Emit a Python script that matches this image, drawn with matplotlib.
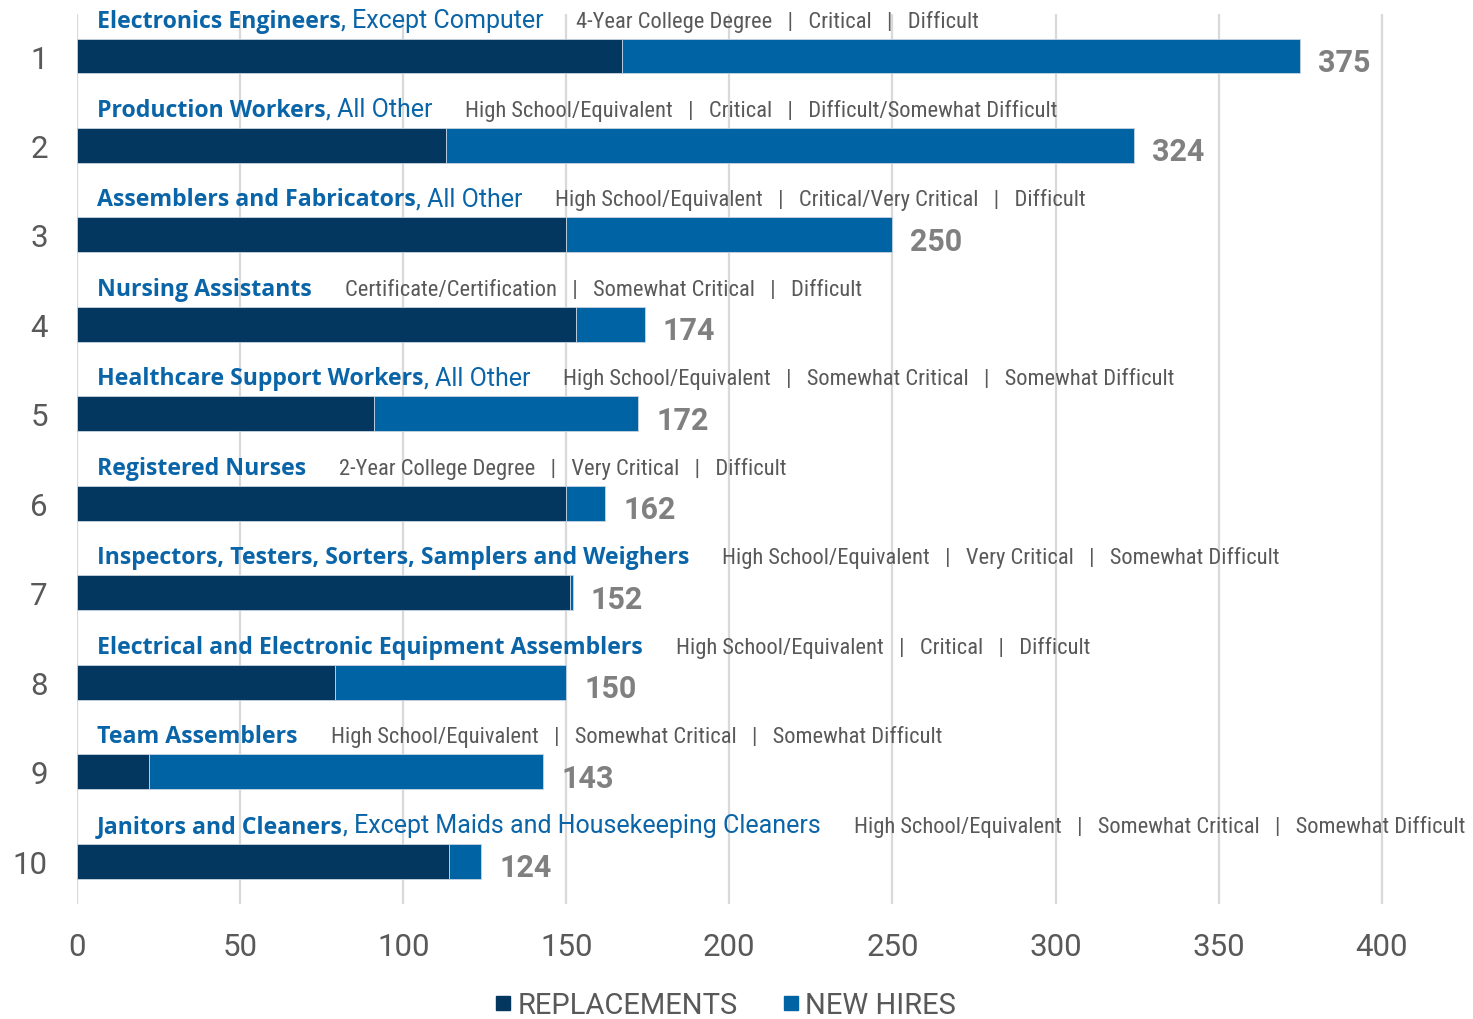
import matplotlib
matplotlib.use("Agg")
import numpy as np
import matplotlib.pyplot as plt
from matplotlib import font_manager
from matplotlib import transforms
from matplotlib.lines import Line2D

# ---------------------------------------------------------
# Data
# ---------------------------------------------------------

ranks = np.arange(1, 11)

titles_bold = [
    "Electronics Engineers",
    "Production Workers",
    "Assemblers and Fabricators",
    "Nursing Assistants",
    "Healthcare Support Workers",
    "Registered Nurses",
    "Inspectors, Testers, Sorters, Samplers and Weighers",
    "Electrical and Electronic Equipment Assemblers",
    "Team Assemblers",
    "Janitors and Cleaners",
]

titles_rest = [
    ", Except Computer",
    ", All Other",
    ", All Other",
    "",
    ", All Other",
    "",
    "",
    "",
    "",
    ", Except Maids and Housekeeping Cleaners",
]

education = [
    "4-Year College Degree",
    "High School/Equivalent",
    "High School/Equivalent",
    "Certificate/Certification",
    "High School/Equivalent",
    "2-Year College Degree",
    "High School/Equivalent",
    "High School/Equivalent",
    "High School/Equivalent",
    "High School/Equivalent",
]

criticality = [
    "Critical",
    "Critical",
    "Critical/Very Critical",
    "Somewhat Critical",
    "Somewhat Critical",
    "Very Critical",
    "Very Critical",
    "Critical",
    "Somewhat Critical",
    "Somewhat Critical",
]

difficulty = [
    "Difficult",
    "Difficult/Somewhat Difficult",
    "Difficult",
    "Difficult",
    "Somewhat Difficult",
    "Difficult",
    "Somewhat Difficult",
    "Difficult",
    "Somewhat Difficult",
    "Somewhat Difficult",
]

replacements = np.array([167, 113, 150, 153, 91, 150, 151, 79, 22, 114])
totals = np.array([375, 324, 250, 174, 172, 162, 152, 150, 143, 124])
new_hires = totals - replacements

xticks = [0, 50, 100, 150, 200, 250, 300, 350, 400]

# ---------------------------------------------------------
# Style
# ---------------------------------------------------------

NAVY = "#03375f"
BLUE = "#0064a4"
TITLE_BLUE = "#0a65a8"
GRAY = "#595959"
VALUE_GRAY = "#808080"
GRID = "#d9d9d9"

installed = {f.name for f in font_manager.fontManager.ttflist}


def pick(*names):
    return next((n for n in names if n in installed), "DejaVu Sans")


NARROW = pick("Roboto Condensed", "Liberation Sans Narrow", "Roboto")
BOLD = pick("Open Sans", "Roboto")
PLAIN = pick("Roboto", "Liberation Sans")

plt.rcParams["font.family"] = [PLAIN, "DejaVu Sans"]

# ---------------------------------------------------------
# Figure
# ---------------------------------------------------------

fig = plt.figure(figsize=(14.73, 10.20), dpi=100)
ax = fig.add_axes([0.0523, 0.1127, 0.9477, 0.8726])

ax.barh(ranks, replacements, height=0.39, color=NAVY,
        edgecolor="#c8d4e0", linewidth=0.6, zorder=2)
ax.barh(ranks, new_hires, left=replacements, height=0.39, color=BLUE,
        edgecolor="#c8d4e0", linewidth=0.6, zorder=2)

ax.set_xlim(0, 428)
ax.set_ylim(10.48, 0.53)
ax.set_xticks(xticks)
ax.set_yticks(ranks)
ax.set_yticklabels([str(r) for r in ranks])

for x in xticks:
    ax.axvline(x, color=GRID, lw=1.6, zorder=0)

for s in ax.spines.values():
    s.set_visible(False)

ax.tick_params(axis="x", length=0, pad=20, labelsize=22.5, labelcolor=GRAY)
ax.tick_params(axis="y", length=0, pad=21, labelsize=22.5, labelcolor=GRAY)

# row headings are laid out piece by piece in pixel x / data y
renderer = fig.canvas.get_renderer()
px_data = transforms.blended_transform_factory(
    transforms.IdentityTransform(), ax.transData)
x0 = ax.transData.transform((0, 0))[0] + 20


def put(x, y, s, **kw):
    t = ax.text(x, y, s, transform=px_data, ha="left", va="baseline",
                zorder=3, **kw)
    return t.get_window_extent(renderer).x1


for i, r in enumerate(ranks):
    y = r - 0.33
    x = put(x0, y, titles_bold[i], fontsize=16.7, fontweight="bold",
            family=[BOLD, "DejaVu Sans"], color=TITLE_BLUE)
    if titles_rest[i]:
        x = put(x, y, titles_rest[i], fontsize=18, color=TITLE_BLUE)
    details = "   |   ".join([education[i], criticality[i], difficulty[i]])
    put(x + 33, y, details, fontsize=16.2,
        family=[NARROW, "DejaVu Sans"], color=GRAY)

    ax.annotate(str(totals[i]), xy=(totals[i], r),
                xytext=(18, -6), textcoords="offset pixels",
                fontsize=22, fontweight="bold", color=VALUE_GRAY,
                ha="left", va="center", zorder=3)

handles = [
    Line2D([], [], marker="s", ls="none", markersize=10.5, color=NAVY),
    Line2D([], [], marker="s", ls="none", markersize=10.5, color=BLUE),
]
leg = fig.legend(handles, ["REPLACEMENTS", "NEW HIRES"],
                 loc="center", bbox_to_anchor=(0.4915, 0.014), ncol=2,
                 frameon=False, fontsize=21, handletextpad=0.1,
                 columnspacing=1.4, handlelength=0.8)
for t in leg.get_texts():
    t.set_color(GRAY)

fig.savefig("out.png", dpi=100)
